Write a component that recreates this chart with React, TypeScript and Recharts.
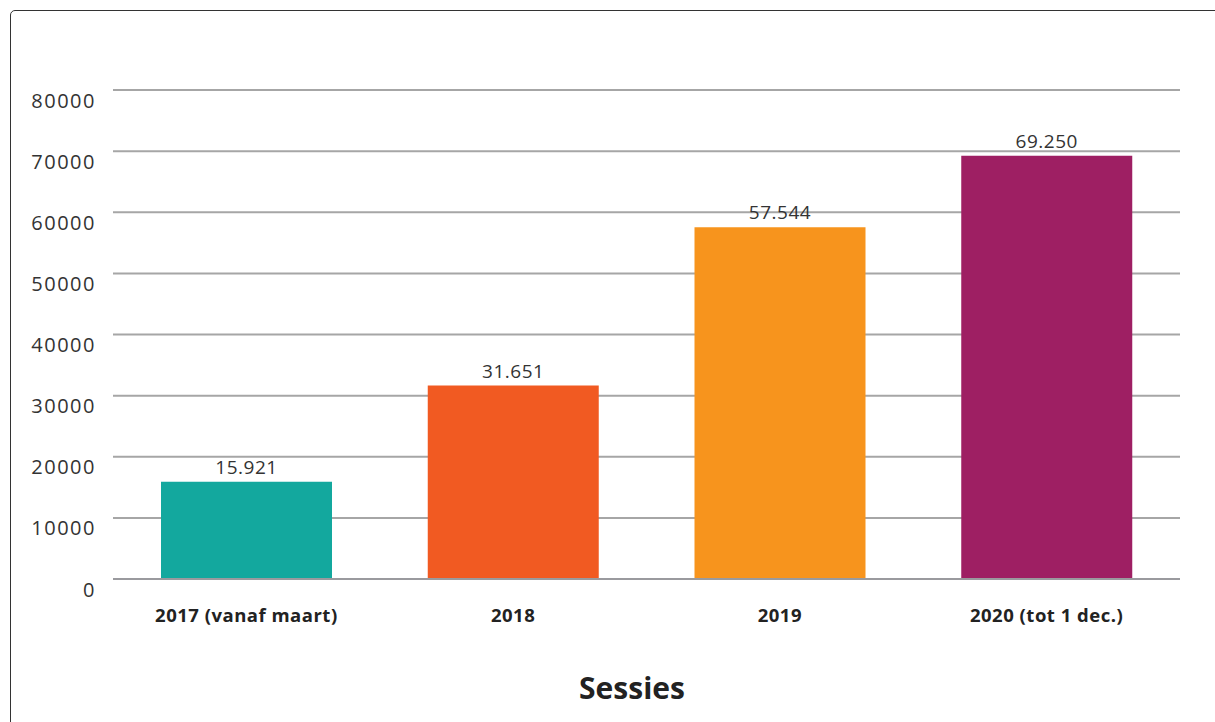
import React from 'react'
import { Bar, BarChart, CartesianGrid, Cell, LabelList, XAxis, YAxis } from 'recharts'

const years = ['2017 (vanaf maart)', '2018', '2019', '2020 (tot 1 dec.)']
const sessions = [15921, 31651, 57544, 69250]
const barColors = ['#13a89e', '#f15a22', '#f7941d', '#9e1f63']
const yTicks = [0, 10000, 20000, 30000, 40000, 50000, 60000, 70000, 80000]

const data = years.map((year, i) => ({ year, sessions: sessions[i] }))

const dotted = (v) => String(v).replace(/\B(?=(\d{3})+(?!\d))/g, '.')

const font = "'Open Sans', 'Noto Sans', sans-serif"

function YTick({ x, y, payload }) {
  return (
    <text x={x - 17} y={y + 10} textAnchor='end' dominantBaseline='central'
      fontFamily={font} fontSize={20} letterSpacing={1.5} fill='#333'>
      {payload.value}
    </text>
  )
}

function XTick({ x, y, payload }) {
  return (
    <text x={x} y={y + 27} textAnchor='middle' dominantBaseline='central'
      fontFamily={font} fontSize={18.5} fontWeight={700} letterSpacing={0.5} fill='#222'>
      {payload.value}
    </text>
  )
}

function App() {
  return (
    <div style={{ position: 'fixed', left: 0, top: 0, width: 1215, height: 722, overflow: 'hidden', background: '#fff' }}>
      <div style={{ position: 'absolute', left: 10, top: 10, width: 1230, height: 740, border: '1.5px solid #333', borderRadius: 5 }} />
      <div style={{ position: 'absolute', left: 0, top: 0 }}>
        <BarChart
          width={1215}
          height={722}
          data={data}
          margin={{ top: 90, right: 35, left: 13, bottom: 83 }}
        >
          <CartesianGrid vertical={false} stroke='#a6a6a6' strokeWidth={2} />
          <XAxis dataKey='year' tick={<XTick />} tickLine={false} axisLine={{ stroke: '#9a9a9e', strokeWidth: 2 }} height={60} interval={0} />
          <YAxis width={100} domain={[0, 80000]} ticks={yTicks} tick={<YTick />} tickLine={false} axisLine={false} tickSize={0} tickMargin={0} />
          <Bar dataKey='sessions' barSize={171} isAnimationActive={false}>
            {data.map((d, i) => (
              <Cell key={d.year} fill={barColors[i]} />
            ))}
            <LabelList dataKey='sessions' position='top' offset={8} formatter={dotted}
              style={{ fontFamily: font, fontSize: 19, fill: '#333', letterSpacing: 0.5 }} />
          </Bar>
        </BarChart>
      </div>
      <div style={{ position: 'absolute', left: 482, width: 300, top: 664, textAlign: 'center', fontFamily: font, fontWeight: 700, fontSize: 30, color: '#222', lineHeight: '48px' }}>
        Sessies
      </div>
    </div>
  )
}

export default App
